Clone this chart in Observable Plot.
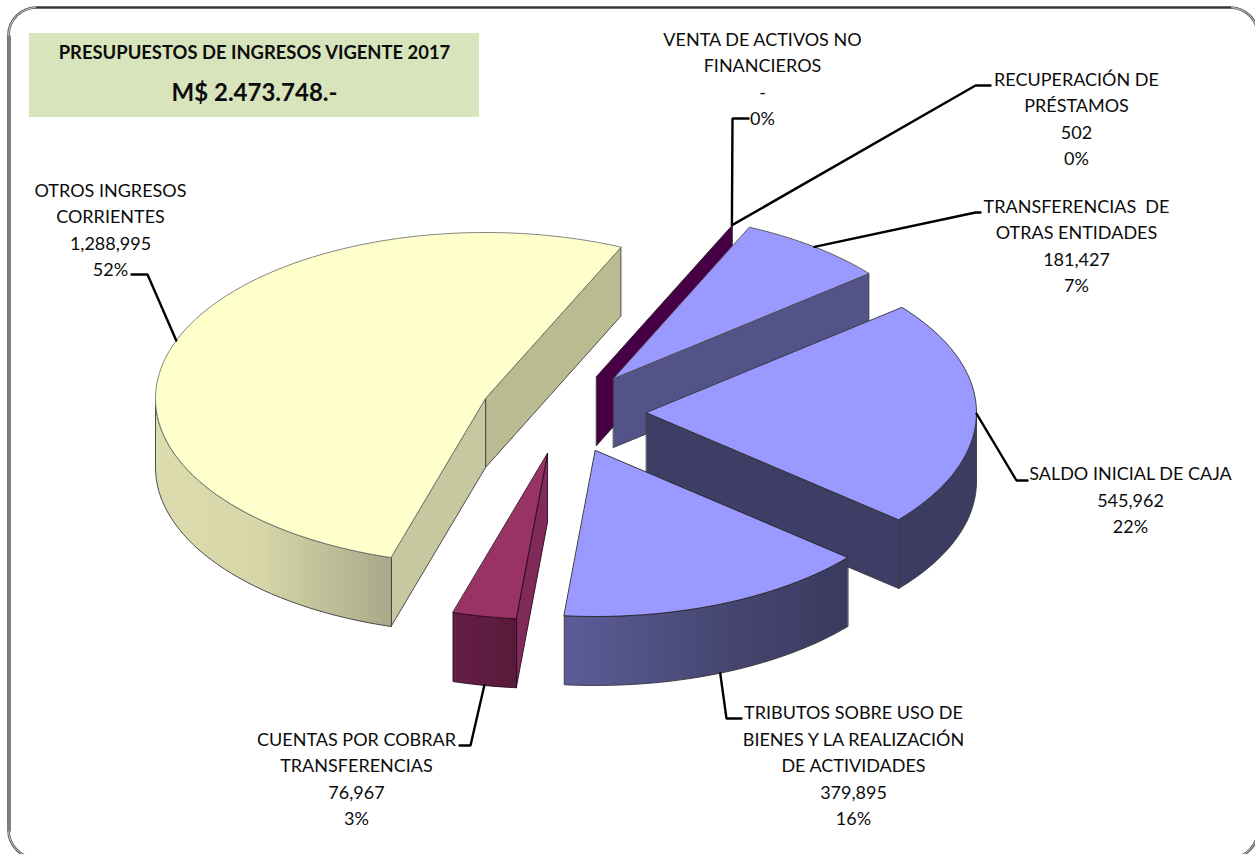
<!DOCTYPE html>
<html lang="es">
<head>
<meta charset="utf-8">
<style>
html,body{margin:0;padding:0;background:#fff;overflow:hidden}
svg text{white-space:pre}
</style>
<script src="https://cdn.jsdelivr.net/npm/d3@7"></script>
<script src="https://cdn.jsdelivr.net/npm/@observablehq/plot@0.6"></script>
</head>
<body>
<div id="chart"></div>
<script>
// Data, in drawing order around the pie (clockwise)
const sliceNames = [
  "SALDO INICIAL DE CAJA",
  "TRIBUTOS SOBRE USO DE\nBIENES Y LA REALIZACIÓN\nDE ACTIVIDADES",
  "CUENTAS POR COBRAR\nTRANSFERENCIAS",
  "OTROS INGRESOS\nCORRIENTES",
  "VENTA DE ACTIVOS NO\nFINANCIEROS",
  "RECUPERACIÓN DE\nPRÉSTAMOS",
  "TRANSFERENCIAS  DE\nOTRAS ENTIDADES"
];
const sliceValues = [545962, 379895, 76967, 1288995, 0, 502, 181427];
const slicePercents = [22, 16, 3, 52, 0, 0, 7];
const titleLines = ["PRESUPUESTOS DE INGRESOS VIGENTE 2017", "M$ 2.473.748.-"];

// Layout of the 3D projection
const radiusX = 330, radiusY = 166, depth = 69, startAngle = -39.3;
const apexX = [646, 595, 547, 485, 596, 596, 613];
const apexY = [412, 450, 453, 398, 376, 376, 378];
const labelX = [1130, 853, 356, 110, 762, 1076, 1076];
const labelY = [500.5, 766, 779, 230, 79, 119, 246];
const elbowX = [1016, 726, 470, 147, 732, 975, 975];
const elbowY = [480, 718, 745, 274, 118, 85, 212];
const stubX = [1027, 741, 459, 131, 748, 990, 980];

const total = d3.sum(sliceValues);
const toRad = d => d * Math.PI / 180;
let running = startAngle;
const slices = sliceValues.map((v, i) => {
  const a0 = running;
  running += v / total * 360;
  return {i, a0, a1: running, mid: (a0 + running) / 2, cx: apexX[i], cy: apexY[i]};
});
const rim = (s, a, dy = 0) => ({
  x: s.cx + radiusX * Math.cos(toRad(a)),
  y: s.cy + radiusY * Math.sin(toRad(a)) + dy
});
function arcPts(s, a0, a1, dy = 0) {
  const n = Math.max(2, Math.ceil(Math.abs(a1 - a0) / 2));
  return d3.range(n + 1).map(k => rim(s, a0 + (a1 - a0) * k / n, dy));
}
const topFace = s => [{x: s.cx, y: s.cy}, ...arcPts(s, s.a0, s.a1)];
const radialWall = (s, a) => {
  const p = rim(s, a);
  return [{x: s.cx, y: s.cy}, p, {x: p.x, y: p.y + depth}, {x: s.cx, y: s.cy + depth}];
};
const outerWall = (s, a0, a1) => [...arcPts(s, a0, a1), ...arcPts(s, a1, a0, depth)];

const edge = "#3a3a3a";
const face = (pts, fill, stroke = edge, strokeWidth = 0.9) =>
  Plot.line(pts, {x: "x", y: "y", curve: "linear-closed", fill, stroke, strokeWidth, strokeLinejoin: "round"});

const [saldo, tributos, cuentas, otros, venta, recup, transf] = slices;

// Gradients for the curved outer walls
const defs = d3.create("svg:defs");
function grad(id, x1, x2, stops) {
  const g = defs.append("linearGradient").attr("id", id).attr("gradientUnits", "userSpaceOnUse")
    .attr("x1", x1).attr("x2", x2).attr("y1", 0).attr("y2", 0);
  stops.forEach(([o, c]) => g.append("stop").attr("offset", o).attr("stop-color", c));
}
grad("gOtros", 155, 391, [[0, "#dcdcae"], [0.45, "#d6d6a8"], [1, "#a9a98a"]]);
grad("gTrib", 564, 848, [[0, "#5c5c99"], [0.6, "#45456f"], [1, "#3a3a60"]]);
grad("gCuentas", 453, 517, [[0, "#651f48"], [1, "#571a3a"]]);

const labelRows = slices.map(s => {
  const v = sliceValues[s.i];
  return {
    x: labelX[s.i], y: labelY[s.i] - 2.5,
    text: sliceNames[s.i] + "\n" + (v === 0 ? "-" : d3.format(",")(v)) + "\n" + slicePercents[s.i] + "%"
  };
});

const leaderPts = slices.flatMap(s => {
  const start = [saldo, transf, otros, venta, recup].includes(s)
    ? rim(s, s.mid)
    : rim(s, s.mid, depth);
  return [
    {z: s.i, ...start},
    {z: s.i, x: elbowX[s.i], y: elbowY[s.i]},
    {z: s.i, x: stubX[s.i], y: elbowY[s.i]}
  ];
});

const font = "Lato";
const chart = Plot.plot({
  width: 1255, height: 854,
  marginTop: 0, marginRight: 0, marginBottom: 0, marginLeft: 0,
  x: {domain: [0, 1255], range: [0, 1255], axis: null},
  y: {domain: [0, 854], range: [0, 854], axis: null},
  marks: [
    () => defs.node(),
    // frame
    Plot.rect([{x1: 8.5, x2: 1258, y1: 7.5, y2: 858}], {x1: "x1", x2: "x2", y1: "y1", y2: "y2", rx: 28, fill: "none", stroke: "#555", strokeWidth: 2.6}),
    Plot.rect([{x1: 8.5, x2: 1258, y1: 7.5, y2: 858}], {x1: "x1", x2: "x2", y1: "y1", y2: "y2", rx: 28, fill: "none", stroke: "#fff", strokeWidth: 0.7}),
    Plot.line([{x: 9, y: 36}, {x: 9, y: 830}], {x: "x", y: "y", stroke: "#7f7f7f", strokeWidth: 3}),
    Plot.line([{x: 36, y: 7}, {x: 1230, y: 7}], {x: "x", y: "y", stroke: "#333", strokeWidth: 1.6}),
    // title box
    Plot.rect([{x1: 29, x2: 479, y1: 33, y2: 117}], {x1: "x1", x2: "x2", y1: "y1", y2: "y2", fill: "#d8e4bc"}),
    Plot.text([{x: 254, y: 53, t: titleLines[0]}], {x: "x", y: "y", text: "t", fontFamily: font, fontWeight: 700, fontSize: 18.4, fill: "#0c0c0c"}),
    Plot.text([{x: 254, y: 93, t: titleLines[1]}], {x: "x", y: "y", text: "t", fontFamily: font, fontWeight: 700, fontSize: 24, fill: "#0c0c0c"}),
    // otros ingresos
    face(radialWall(otros, otros.a1), "#bbbb92"),
    face(radialWall(otros, otros.a0), "#c8c8a0"),
    face(outerWall(otros, otros.a0, 180), "url(#gOtros)"),
    face(topFace(otros), "#ffffcc", "#777"),
    // venta / recuperacion: a zero-width slice shows only its wall
    face(radialWall(recup, recup.a1), "#470045", "#222"),
    // transferencias
    face(radialWall(transf, transf.a1), "#53538a"),
    face(topFace(transf), "#9999ff", "#555"),
    // saldo
    face(radialWall(saldo, saldo.a1), "#3d3d66"),
    face(outerWall(saldo, 0, saldo.a1), "#3c3c63"),
    face(topFace(saldo), "#9999ff", "#333"),
    // tributos
    face(outerWall(tributos, tributos.a0, tributos.a1), "url(#gTrib)"),
    face(topFace(tributos), "#9999ff", "#222"),
    // cuentas
    face(radialWall(cuentas, cuentas.a0), "#7f2a59", "#2a0a1c"),
    face(outerWall(cuentas, cuentas.a0, cuentas.a1), "url(#gCuentas)", "#2a0a1c"),
    face(topFace(cuentas), "#993366", "#2a0a1c"),
    // leaders
    Plot.line(leaderPts, {x: "x", y: "y", z: "z", stroke: "#000", strokeWidth: 2.4, strokeLinejoin: "miter"}),
    // labels
    Plot.text(labelRows, {x: "x", y: "y", text: "text", fontFamily: font, fontSize: 18, lineHeight: 26.5 / 18, fill: "#0c0c0c", textAnchor: "middle"})
  ]
});
document.getElementById("chart").appendChild(chart);
</script>
</body>
</html>
